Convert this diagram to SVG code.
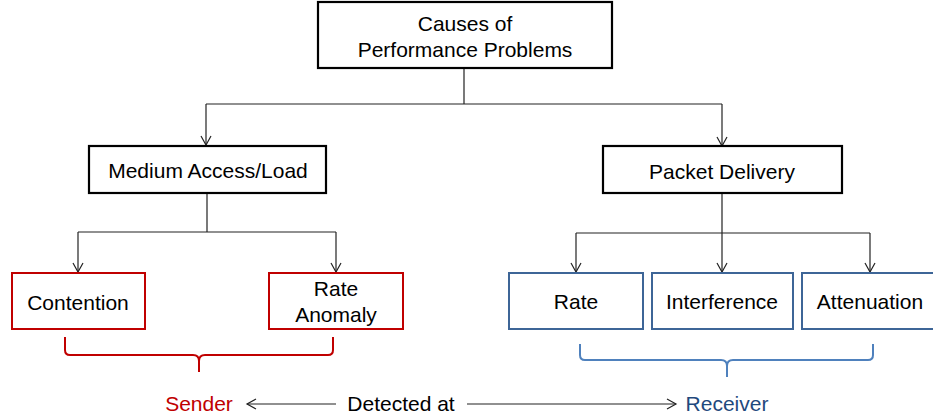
<svg xmlns="http://www.w3.org/2000/svg" width="933" height="419" viewBox="0 0 933 419">
<defs>
<marker id="arr" markerWidth="12" markerHeight="12" refX="10" refY="6" orient="auto" markerUnits="userSpaceOnUse">
<path d="M1,1 L10,6 L1,11" fill="none" stroke="#222" stroke-width="1.2"/>
</marker>
<style>
text{font-family:"Liberation Sans",Arial,sans-serif;font-size:21px;text-anchor:middle;fill:#000}
.bk{fill:#fff;stroke:#000;stroke-width:2.2}
.rd{fill:#fff;stroke:#c00000;stroke-width:2}
.bl{fill:#fff;stroke:#3d6597;stroke-width:2}
.ln{fill:none;stroke:#222;stroke-width:1.2}
.ar{fill:none;stroke:#222;stroke-width:1.2;marker-end:url(#arr)}
</style>
</defs>
<rect width="933" height="419" fill="#fff"/>
<g id="connectors">
<path class="ln" d="M464,68 V104 M206,104 H722"/>
<path class="ar" d="M206,104 V145"/>
<path class="ar" d="M722,104 V146"/>
<path class="ln" d="M207,193 V232 M78,232 H336"/>
<path class="ar" d="M78,232 V272"/>
<path class="ar" d="M336,232 V272"/>
<path class="ln" d="M722,193 V233 M576,233 H870"/>
<path class="ar" d="M576,233 V272"/>
<path class="ar" d="M722,233 V272"/>
<path class="ar" d="M870,233 V272"/>
<path class="ar" d="M336,404 H247"/>
<path class="ar" d="M467,404 H676"/>
</g>
<g id="root"><rect class="bk" x="318" y="2" width="294" height="66"/><text x="465" y="31">Causes of</text><text x="465" y="57">Performance Problems</text></g>
<g id="medium"><rect class="bk" x="89" y="146" width="237" height="47"/><text x="208" y="178">Medium Access/Load</text></g>
<g id="packet"><rect class="bk" x="603" y="146" width="239" height="47"/><text x="722" y="179">Packet Delivery</text></g>
<g id="contention"><rect class="rd" x="12" y="273" width="133" height="56"/><text x="78" y="310">Contention</text></g>
<g id="anomaly"><rect class="rd" x="269" y="273" width="134" height="56"/><text x="336" y="296">Rate</text><text x="336" y="322">Anomaly</text></g>
<g id="rate"><rect class="bl" x="509" y="273" width="134" height="56"/><text x="576" y="309">Rate</text></g>
<g id="interference"><rect class="bl" x="652" y="273" width="141" height="56"/><text x="722" y="309">Interference</text></g>
<g id="attenuation"><rect class="bl" x="802" y="273" width="140" height="56"/><text x="870" y="309">Attenuation</text></g>
<g id="sender-brace"><path d="M65,337 V350 Q65,355 70,355 H193 Q199,355 199,361 V372 M199,361 Q199,355 205,355 H328 Q333,355 333,350 V337" fill="none" stroke="#c00000" stroke-width="2"/></g>
<g id="receiver-brace"><path d="M580,344 V355 Q580,360 585,360 H721 Q727,360 727,366 V377 M727,366 Q727,360 733,360 H868 Q873,360 873,355 V344" fill="none" stroke="#4f81bd" stroke-width="2"/></g>
<g id="sender"><text x="199" y="411" style="fill:#c00000">Sender</text></g>
<g id="detected"><text x="401" y="411">Detected at</text></g>
<g id="receiver"><text x="727" y="411" style="fill:#1f497d">Receiver</text></g>
</svg>
